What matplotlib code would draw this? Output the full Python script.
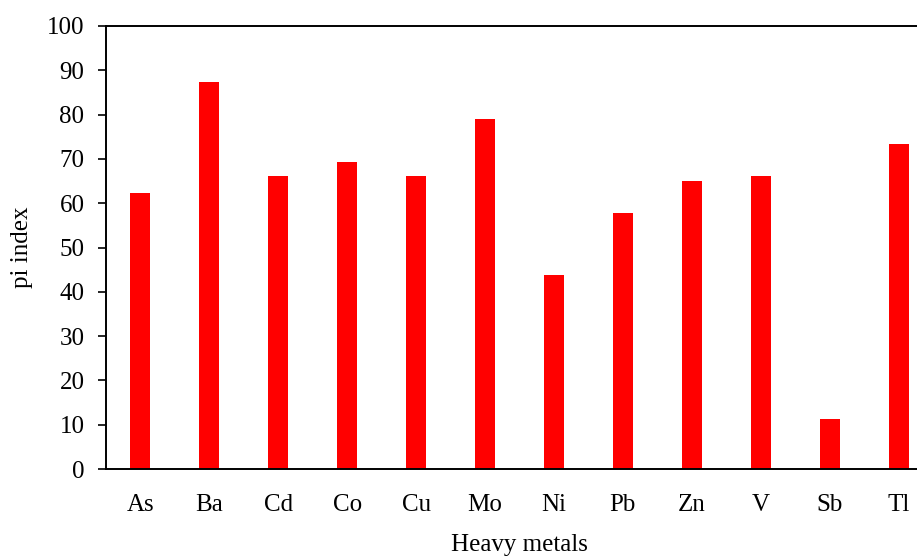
import matplotlib
matplotlib.use("Agg")
from matplotlib import pyplot as plt

# Values
metals = ["As", "Ba", "Cd", "Co", "Cu", "Mo", "Ni", "Pb", "Zn", "V", "Sb", "Tl"]
pi_index = [62.2, 87.4, 66.2, 69.2, 66.2, 79.0, 43.8, 57.8, 64.9, 66.2, 11.3, 73.4]

plt.rcParams["font.family"] = ["Liberation Serif", "DejaVu Serif"]
plt.rcParams["font.size"] = 18

fig = plt.figure(figsize=(9.17, 5.59), dpi=100)
# the original axes runs past the right edge of the picture
ax = fig.add_axes([106 / 917, 90 / 559, 827 / 917, 443 / 559])

x = range(len(metals))
ax.bar(x, pi_index, width=0.29, color="#ff0000")

ax.set_xlim(-0.5, len(metals) - 0.5)
ax.set_ylim(0, 100)
ax.set_yticks(range(0, 101, 10))
ax.set_xticks(list(x))
ax.set_xticklabels(metals)

ax.tick_params(axis="x", length=0, pad=18)
ax.tick_params(axis="y", direction="out", length=5.5, width=1.2, pad=10)
for side in ["left", "bottom", "top"]:
    ax.spines[side].set_linewidth(1.4)
ax.spines["right"].set_visible(False)

ax.set_ylabel("pi index", labelpad=10)
ax.set_xlabel("Heavy metals", labelpad=13)

fig.savefig("out.png", dpi=100)
